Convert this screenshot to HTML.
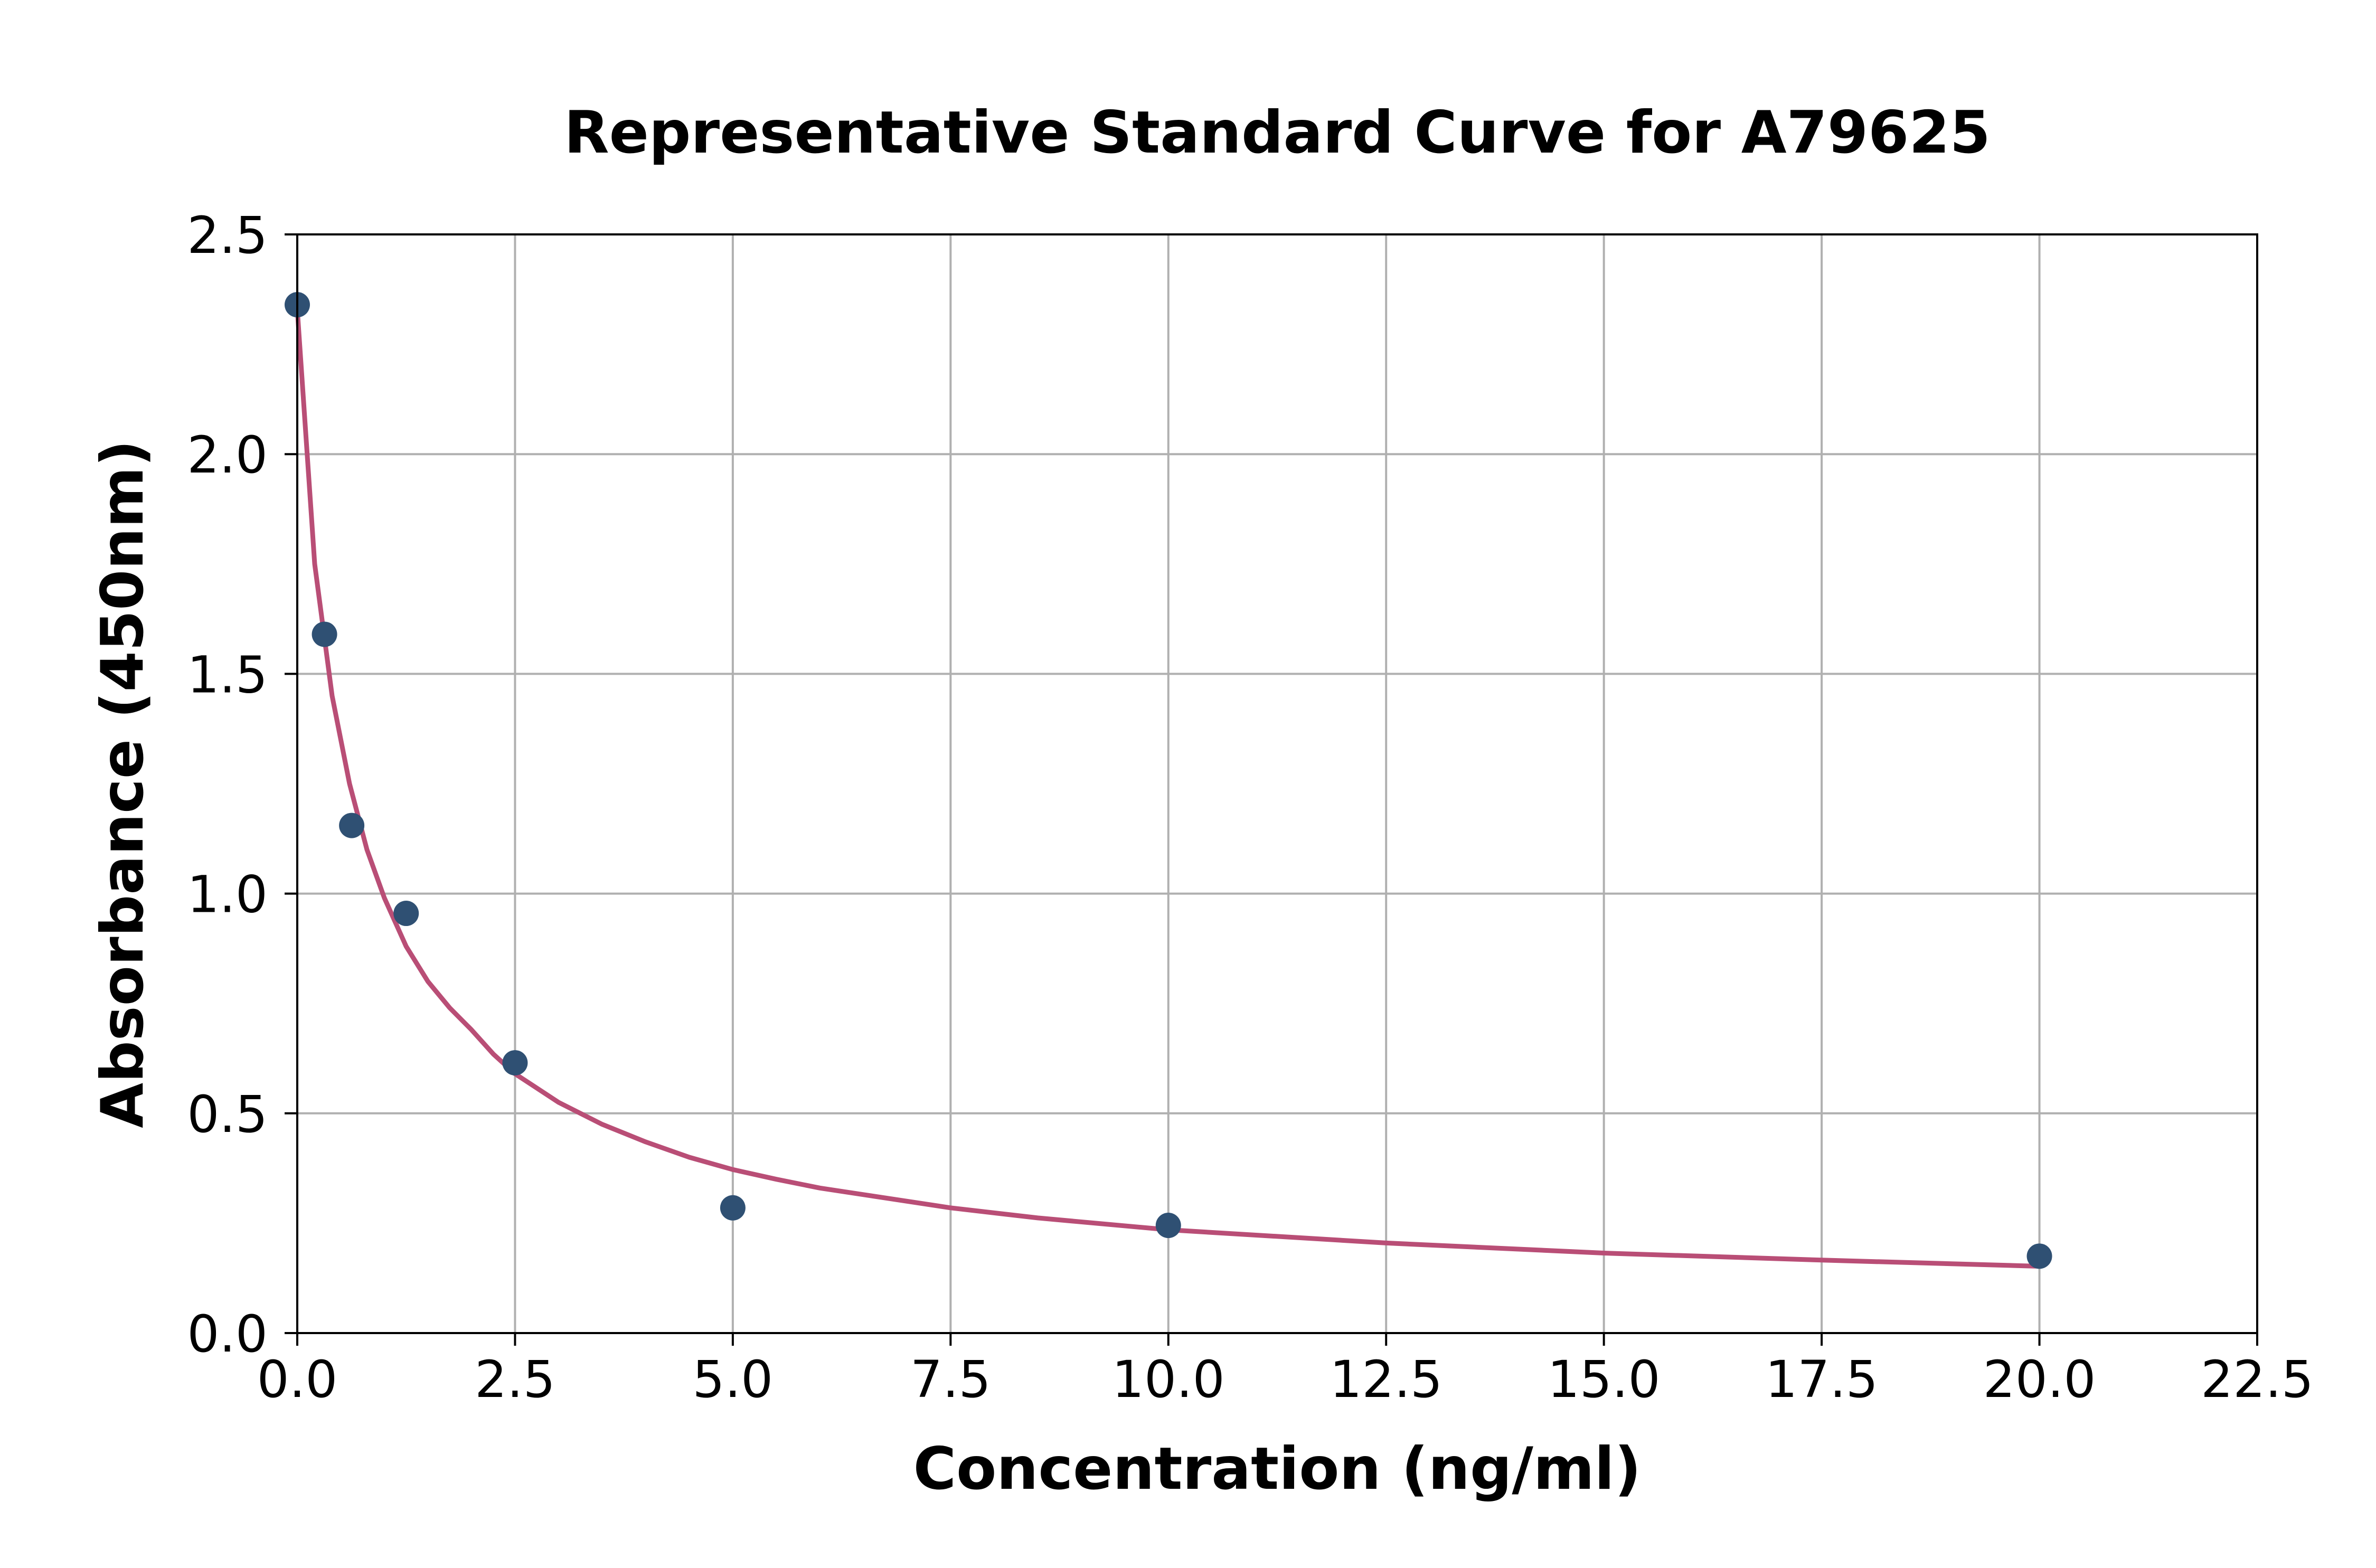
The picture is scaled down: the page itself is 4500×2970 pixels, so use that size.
<!DOCTYPE html>
<html><head><meta charset="utf-8"><style>
html,body{margin:0;padding:0;background:#fff;}
svg{display:block;}
text{font-family:"DejaVu Sans","Liberation Sans",sans-serif;fill:#000;}
</style></head><body>
<svg id="chart" width="4500" height="2970" viewBox="0 0 4500 2970" xmlns="http://www.w3.org/2000/svg">
<rect width="4500" height="2970" fill="#fff"/>
<g id="grid"></g>
<g id="curve"></g>
<g id="points"></g>
<rect x="563" y="444" width="3712" height="2081" fill="none" stroke="#000" stroke-width="4"/>
<g id="ticks"></g>
<text x="2419" y="289" text-anchor="middle" font-size="111" font-weight="bold">Representative Standard Curve for A79625</text>
<text x="2419" y="2820" text-anchor="middle" font-size="111" font-weight="bold">Concentration (ng/ml)</text>
<text x="0" y="0" transform="translate(270,1485) rotate(-90)" text-anchor="middle" font-size="111" font-weight="bold">Absorbance (450nm)</text>
</svg>
<script>
const xTicks = [0, 2.5, 5, 7.5, 10, 12.5, 15, 17.5, 20, 22.5];
const xTickLabels = ["0.0","2.5","5.0","7.5","10.0","12.5","15.0","17.5","20.0","22.5"];
const yTicks = [0, 0.5, 1, 1.5, 2, 2.5];
const yTickLabels = ["0.0","0.5","1.0","1.5","2.0","2.5"];
const concentrations = [0, 0.3125, 0.625, 1.25, 2.5, 5, 10, 20];
const absorbances = [2.34, 1.59, 1.155, 0.955, 0.615, 0.285, 0.245, 0.175];
const curveX = [0, 0.2, 0.4, 0.6, 0.8, 1.0, 1.25, 1.5, 1.75, 2.0, 2.25, 2.5, 3.0, 3.5, 4.0, 4.5, 5.0, 5.5, 6.0, 6.5, 7.5, 8.5, 10, 12.5, 15, 17.5, 20];
const curveY = [2.33, 1.75, 1.45, 1.25, 1.10, 0.99, 0.88, 0.80, 0.74, 0.69, 0.635, 0.59, 0.525, 0.475, 0.435, 0.40, 0.372, 0.35, 0.33, 0.315, 0.285, 0.262, 0.235, 0.205, 0.182, 0.166, 0.152];

const X0=563, X1=4275, Y0=2525, Y1=444;
const sx = v => X0 + (v - 0) / 22.5 * (X1 - X0);
const sy = v => Y0 - (v - 0) / 2.5 * (Y0 - Y1);
const NS = "http://www.w3.org/2000/svg";
function mk(tag, attrs, parent){const e=document.createElementNS(NS,tag);for(const k in attrs)e.setAttribute(k,attrs[k]);document.getElementById(parent).appendChild(e);return e;}

xTicks.forEach((t,i)=>{
  const x=sx(t);
  if(i>0 && i<xTicks.length-1){
    const g=mk("line",{x1:x,x2:x,y1:Y1,y2:Y0,stroke:"#b0b0b0","stroke-width":4},"grid");
    
    
  }
  const tk=mk("line",{x1:x,x2:x,y1:Y0,y2:Y0+24,stroke:"#000","stroke-width":4},"ticks");
  
  
  const tl=mk("text",{x:x,y:2646,"text-anchor":"middle","font-size":96},"ticks");
  tl.textContent=xTickLabels[i];
  
  
});
yTicks.forEach((t,i)=>{
  const y=sy(t);
  if(i>0 && i<yTicks.length-1){
    const g=mk("line",{x1:X0,x2:X1,y1:y,y2:y,stroke:"#b0b0b0","stroke-width":4},"grid");
    
    
  }
  const tk=mk("line",{x1:X0-24,x2:X0,y1:y,y2:y,stroke:"#000","stroke-width":4},"ticks");
  
  
  const tl=mk("text",{x:507,y:y+35,"text-anchor":"end","font-size":96},"ticks");
  tl.textContent=yTickLabels[i];
  
  
});
const pts=curveX.map((v,i)=>sx(v).toFixed(1)+","+sy(curveY[i]).toFixed(1)).join(" ");
const pl=mk("polyline",{points:pts,fill:"none",stroke:"#b94e76","stroke-width":9,"stroke-linejoin":"round"},"curve");


concentrations.forEach((c,i)=>{
  const p=mk("circle",{cx:sx(c),cy:sy(absorbances[i]),r:24,fill:"#2f5073"},"points");
  
  
});
</script>
</body></html>
